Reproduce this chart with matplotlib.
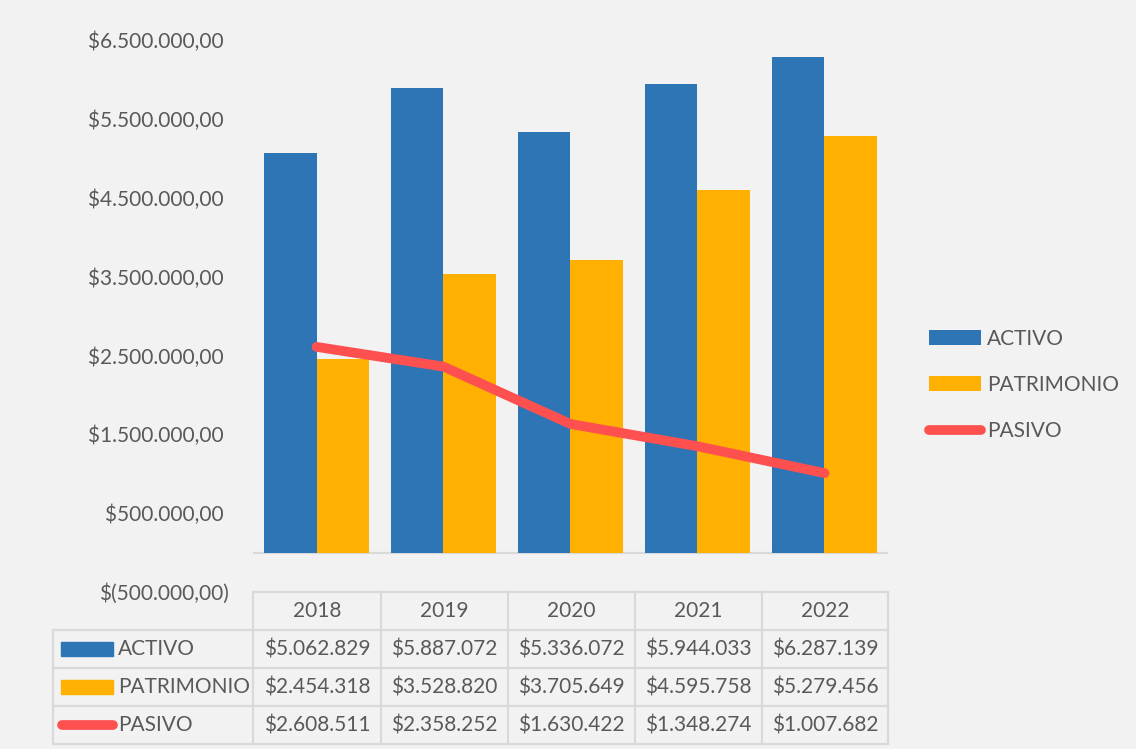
import matplotlib
matplotlib.use("Agg")
import matplotlib.pyplot as plt
from matplotlib.patches import Rectangle
from matplotlib.lines import Line2D

plt.rcParams['font.family'] = ['Lato', 'DejaVu Sans']

years = ["2018", "2019", "2020", "2021", "2022"]
activo = [5062829, 5887072, 5336072, 5944033, 6287139]
patrimonio = [2454318, 3528820, 3705649, 4595758, 5279456]
pasivo = [2608511, 2358252, 1630422, 1348274, 1007682]
yticks = [-500000, 500000, 1500000, 2500000, 3500000, 4500000, 5500000, 6500000]

BLUE = "#2E75B6"
ORANGE = "#FFB000"
RED = "#FF5050"
TXT = "#595959"
GRID = "#D9D9D9"
BG = "#F2F2F2"
FS = 15

W, H = 1136, 749
fig = plt.figure(figsize=(W / 100, H / 100), dpi=100, facecolor=BG)


def fx(x):
    return x / W


def fy(y):
    return 1 - y / H


ax = fig.add_axes([fx(253), fy(592), fx(888) - fx(253), fy(40) - fy(592)])
ax.set_facecolor(BG)

x = list(range(len(years)))
bw = 0.41
b1 = ax.bar([i - bw for i in x], activo, width=bw, align='edge', color=BLUE, label="ACTIVO", zorder=2)
b2 = ax.bar(x, patrimonio, width=bw, align='edge', color=ORANGE, label="PATRIMONIO", zorder=2)
l1, = ax.plot(x, pasivo, color=RED, lw=7, solid_capstyle='round', solid_joinstyle='round',
              label="PASIVO", zorder=3)
ax.axhline(0, color=GRID, lw=1.6, zorder=1)

ax.set_xlim(-0.5, len(years) - 0.5)
ax.set_ylim(-500000, 6500000)
ax.set_xticks([])


def fmt(v):
    if v < 0:
        return "$(" + f"{-v:,.2f}".replace(",", "X").replace(".", ",").replace("X", ".") + ")"
    return "$" + f"{v:,.2f}".replace(",", "X").replace(".", ",").replace("X", ".") + " "


ax.set_yticks(yticks)
ax.set_yticklabels([fmt(v) for v in yticks])
ax.tick_params(axis='y', length=0, pad=17, labelsize=FS, labelcolor=TXT)
for s in ax.spines.values():
    s.set_visible(False)

leg = ax.legend([b1, b2, l1], ["ACTIVO", "PATRIMONIO", "PASIVO"],
                loc='center left', bbox_to_anchor=(fx(929), fy(385)),
                bbox_transform=fig.transFigure, frameon=False, fontsize=FS,
                handlelength=2.5, handleheight=0.7, handletextpad=0.3,
                labelspacing=1.25, borderpad=0, borderaxespad=0)
for t in leg.get_texts():
    t.set_color(TXT)

# data table
cols = [253, 381, 508, 635, 762, 888]
rows = [592, 630, 668, 706, 744]
left = 53
tf = fig.transFigure
lkw = dict(color=GRID, lw=1.6, transform=tf, zorder=5)
fig.add_artist(Line2D([fx(cols[0]), fx(cols[-1])], [fy(rows[0])] * 2, **lkw))
for r in rows[1:]:
    fig.add_artist(Line2D([fx(left), fx(cols[-1])], [fy(r)] * 2, **lkw))
for c in cols:
    fig.add_artist(Line2D([fx(c)] * 2, [fy(rows[0]), fy(rows[-1])], **lkw))
fig.add_artist(Line2D([fx(left)] * 2, [fy(rows[1]), fy(rows[-1])], **lkw))

for j, yr in enumerate(years):
    fig.text(fx((cols[j] + cols[j + 1]) / 2), fy((rows[0] + rows[1]) / 2), yr,
             ha='center', va='center', fontsize=FS, color=TXT)

series = [("ACTIVO", activo, BLUE, 'bar'), ("PATRIMONIO", patrimonio, ORANGE, 'bar'),
          ("PASIVO", pasivo, RED, 'line')]
for i, (name, vals, col, kind) in enumerate(series):
    yc = (rows[i + 1] + rows[i + 2]) / 2
    if kind == 'bar':
        fig.add_artist(Rectangle((fx(61), fy(yc + 7)), fx(113) - fx(61), fy(yc - 7) - fy(yc + 7),
                                 transform=tf, color=col, zorder=6))
    else:
        fig.add_artist(Line2D([fx(62), fx(113)], [fy(yc)] * 2, color=col, lw=7,
                              solid_capstyle='round', transform=tf, zorder=6))
    fig.text(fx(118), fy(yc), name, ha='left', va='center', fontsize=FS, color=TXT)
    for j, v in enumerate(vals):
        fig.text(fx((cols[j] + cols[j + 1]) / 2), fy(yc),
                 "$" + f"{v:,}".replace(",", "."), ha='center', va='center',
                 fontsize=FS, color=TXT)

fig.savefig("out.png", dpi=100, facecolor=BG)
